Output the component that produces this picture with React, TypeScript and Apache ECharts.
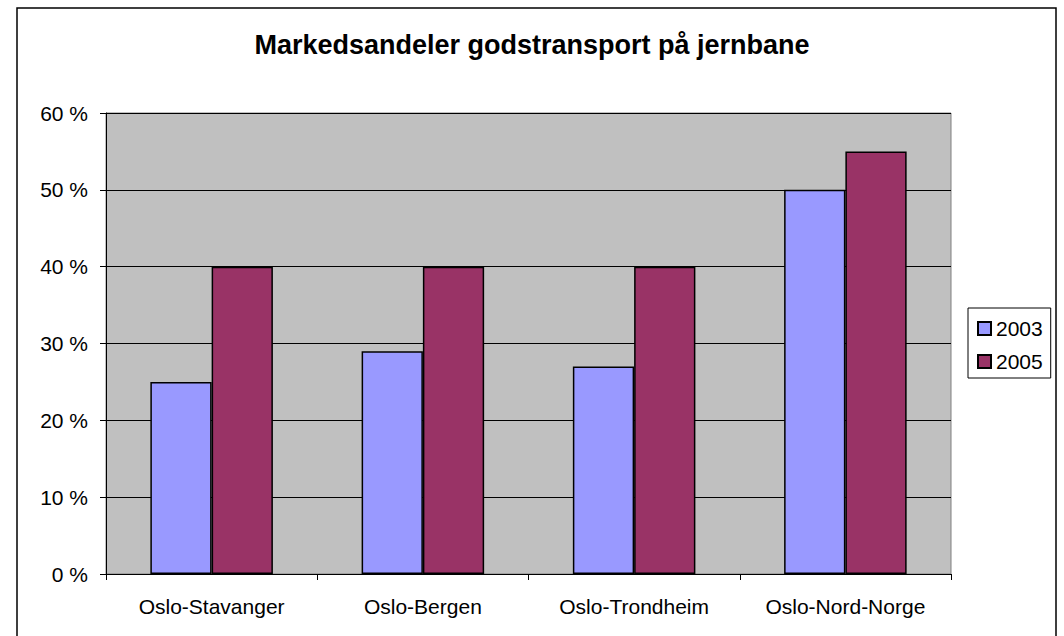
import React, { useEffect, useRef } from "react";
import * as echarts from "echarts";

const categories = ["Oslo-Stavanger", "Oslo-Bergen", "Oslo-Trondheim", "Oslo-Nord-Norge"];
const values2003 = [25, 29, 27, 50];
const values2005 = [40, 40, 40, 55];
const seriesNames = ["2003", "2005"];
const titleText = "Markedsandeler godstransport på jernbane";

const FONT = "'Liberation Sans', Arial, sans-serif";

export default function App() {
  const ref = useRef<HTMLDivElement>(null);
  useEffect(() => {
    if (!ref.current) return;
    const chart = echarts.init(ref.current, null, { renderer: "svg" });
    chart.setOption({
      animation: false,
      backgroundColor: "#ffffff",
      title: {
        text: titleText,
        left: "center",
        top: 26,
        textStyle: { fontFamily: FONT, fontSize: 27, fontWeight: "bold", color: "#000" },
      },
      graphic: [
        {
          type: "rect",
          shape: { x: 17, y: 8, width: 1039, height: 660 },
          style: { fill: "none", stroke: "#000", lineWidth: 1.5 },
          silent: true,
          z: -1,
        },
      ],
      legend: {
        orient: "vertical",
        left: 968,
        top: 308,
        padding: [10, 8, 6, 9],
        itemWidth: 13,
        itemHeight: 13,
        itemGap: 12,
        itemTextGap: 6,
        icon: "rect",
        borderColor: "#000",
        borderWidth: 1,
        textStyle: { fontFamily: FONT, fontSize: 21, color: "#000" },
        data: seriesNames,
      },
      grid: {
        left: 106,
        right: 113,
        top: 113,
        bottom: 62,
        show: true,
        backgroundColor: "#C0C0C0",
        borderColor: "#808080",
        borderWidth: 1,
      },
      xAxis: {
        type: "category",
        data: categories,
        axisLine: { lineStyle: { color: "#000", width: 1 } },
        axisTick: { show: true, alignWithLabel: false, length: 6, lineStyle: { color: "#000" } },
        axisLabel: { fontFamily: FONT, fontSize: 21, color: "#000", margin: 22 },
        splitLine: { show: false },
      },
      yAxis: {
        type: "value",
        min: 0,
        max: 60,
        interval: 10,
        axisLine: { show: true, lineStyle: { color: "#000", width: 1 } },
        axisTick: { show: true, length: 6, lineStyle: { color: "#000" } },
        axisLabel: {
          fontFamily: FONT,
          fontSize: 21,
          color: "#000",
          margin: 18,
          formatter: (v: number) => `${v} %`,
        },
        splitLine: { show: true, lineStyle: { color: "#000", width: 1 } },
      },
      series: [
        {
          name: seriesNames[0],
          type: "bar",
          data: values2003,
          barGap: "0%",
          barCategoryGap: "42%",
          itemStyle: { color: "#9999FF", borderColor: "#000", borderWidth: 1.5 },
        },
        {
          name: seriesNames[1],
          type: "bar",
          data: values2005,
          itemStyle: { color: "#993366", borderColor: "#000", borderWidth: 1.5 },
        },
      ],
    });
    return () => chart.dispose();
  }, []);
  return (
    <div
      ref={ref}
      style={{ position: "fixed", left: 0, top: 0, width: 1064, height: 636 }}
    />
  );
}
